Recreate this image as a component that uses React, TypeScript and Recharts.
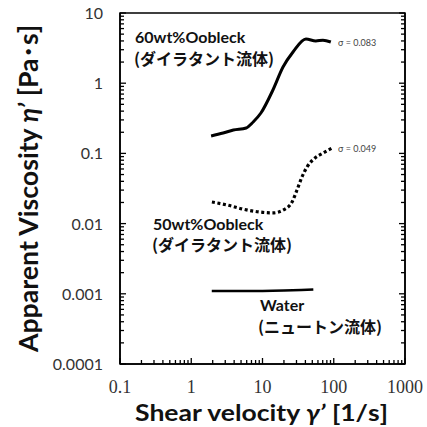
import React from "react";
import {
  LineChart,
  Line,
  XAxis,
  YAxis,
  ReferenceArea,
  Customized,
} from "recharts";

// shear rate [1/s] and apparent viscosity [Pa·s]
const oobleck60Rate = [1.9, 2.8, 3.9, 5.9, 7.4, 9.5, 14, 19.4, 26.8, 40.7, 56, 70.6, 91];
const oobleck60Visc = [0.177, 0.195, 0.215, 0.23, 0.28, 0.376, 0.8, 1.7, 2.78, 4.26, 4.0, 4.1, 3.86];

const oobleck50Rate = [1.95, 3.2, 5.3, 9.2, 14, 20.7, 26, 30.5, 35.8, 42.2, 54.6, 70.6, 94.4];
const oobleck50Visc = [0.0203, 0.0184, 0.0161, 0.0146, 0.0142, 0.0161, 0.0203, 0.0301, 0.0461, 0.064, 0.086, 0.101, 0.119];

const waterRate = [1.94, 5, 10, 20, 35, 51.7];
const waterVisc = [0.0011, 0.0011, 0.0011, 0.00111, 0.00113, 0.00115];

const xMajorTicks = [0.1, 1, 10, 100, 1000];
const yMajorTicks = [0.0001, 0.001, 0.01, 0.1, 1, 10];

const toPoints = (xs: number[], ys: number[]) => xs.map((x, i) => ({ x, y: ys[i] }));
const oobleck60 = toPoints(oobleck60Rate, oobleck60Visc);
const oobleck50 = toPoints(oobleck50Rate, oobleck50Visc);
const water = toPoints(waterRate, waterVisc);

// log ticks: 1..9 in each decade, plus the last decade
const logTicks = (majors: number[]) => [
  ...majors.slice(0, -1).flatMap((d) => [1, 2, 3, 4, 5, 6, 7, 8, 9].map((k) => d * k)),
  majors[majors.length - 1],
];
const xTicks = logTicks(xMajorTicks);
const yTicks = logTicks(yMajorTicks);

const isMajor = (v: number) => {
  const l = Math.log10(v);
  return Math.abs(l - Math.round(l)) < 1e-9;
};
const fmt = (v: number) => String(Number(v.toPrecision(6)));

const latin = "Lato, 'Noto Sans CJK JP', sans-serif";
const jp = "'Noto Sans CJK JP', sans-serif";

const XTick = (props: any) => {
  const { x, y, payload } = props;
  const major = isMajor(payload.value);
  return (
    <g>
      <line x1={x} x2={x} y1={y} y2={y - (major ? 6 : 4)} stroke="#000" strokeWidth={1.3} />
      {major && (
        <text x={x} y={y + 29} textAnchor="middle" fontFamily="'Liberation Serif', serif" fontSize={18} fill="#333">
          {fmt(payload.value)}
        </text>
      )}
    </g>
  );
};

const YTickLeft = (props: any) => {
  const { x, y, payload } = props;
  const major = isMajor(payload.value);
  return (
    <g>
      <line x1={x} x2={x + (major ? 6 : 4)} y1={y} y2={y} stroke="#000" strokeWidth={1.3} />
      {major && (
        <text x={x - 17} y={y + 6} textAnchor="end" fontFamily={latin} fontSize={16} fill="#333">
          {fmt(payload.value)}
        </text>
      )}
    </g>
  );
};

const YTickRight = (props: any) => {
  const { x, y, payload } = props;
  const major = isMajor(payload.value);
  return <line x1={x} x2={x - (major ? 6 : 4)} y1={y} y2={y} stroke="#000" strokeWidth={1.3} />;
};

const Annotations = () => (
  <g>
    <text x={135} y={43} fontFamily={latin} fontWeight="bold" fontSize={16} fill="#111">60wt%Oobleck</text>
    <text x={134} y={65} fontFamily={jp} fontWeight="bold" fontSize={16} fill="#111">(ダイラタント流体)</text>
    <text x={153} y={230} fontFamily={latin} fontWeight="bold" fontSize={16} fill="#111">50wt%Oobleck</text>
    <text x={152} y={251} fontFamily={jp} fontWeight="bold" fontSize={16} fill="#111">(ダイラタント流体)</text>
    <text x={260} y={311} fontFamily={latin} fontWeight="bold" fontSize={16} fill="#111">Water</text>
    <text x={258} y={333} fontFamily={jp} fontWeight="bold" fontSize={16} fill="#111">(ニュートン流体)</text>
    <text x={338} y={46} fontFamily={latin} fontSize={9} fill="#444">σ = 0.083</text>
    <text x={338} y={152} fontFamily={latin} fontSize={9} fill="#444">σ = 0.049</text>
    <text
      x={135}
      y={421}
      fontFamily={latin}
      fontWeight="bold"
      fontSize={23}
      fill="#111"
      textLength={253}
      lengthAdjust="spacingAndGlyphs"
    >
      Shear velocity <tspan fontStyle="italic">γ’</tspan> [1/s]
    </text>
    <text
      transform="translate(38,352) rotate(-90)"
      fontFamily={latin}
      fontWeight="bold"
      fontSize={26}
      fill="#111"
      textLength={327}
      lengthAdjust="spacingAndGlyphs"
    >
      Apparent Viscosity <tspan fontStyle="italic">η’</tspan> [Pa･s]
    </text>
  </g>
);

const axisLine = { stroke: "#000", strokeWidth: 1.5 };

export default function App() {
  return (
    <div style={{ position: "absolute", left: 0, top: 0, width: 427, height: 427, background: "#fff" }}>
      <LineChart width={427} height={427} margin={{ top: 13, right: 12, bottom: 62, left: 119 }}>
        <XAxis
          xAxisId="b"
          dataKey="x"
          type="number"
          scale="log"
          domain={[0.1, 1000]}
          allowDataOverflow
          ticks={xTicks}
          interval={0}
          tickSize={0}
          tickMargin={0}
          tickLine={false}
          tick={<XTick />}
          height={1}
          axisLine={axisLine}
        />
        <YAxis
          yAxisId="l"
          dataKey="y"
          type="number"
          scale="log"
          domain={[0.0001, 10]}
          allowDataOverflow
          ticks={yTicks}
          interval={0}
          tickSize={0}
          tickMargin={0}
          tickLine={false}
          tick={<YTickLeft />}
          width={1}
          axisLine={axisLine}
        />
        <YAxis
          yAxisId="r"
          orientation="right"
          type="number"
          scale="log"
          domain={[0.0001, 10]}
          allowDataOverflow
          ticks={yTicks}
          interval={0}
          tickSize={0}
          tickMargin={0}
          tickLine={false}
          tick={<YTickRight />}
          width={10}
          axisLine={axisLine}
        />
        {/* frame round the plot area */}
        <ReferenceArea
          xAxisId="b"
          yAxisId="l"
          x1={0.1}
          x2={1000}
          y1={0.0001}
          y2={10}
          fill="none"
          stroke="#000"
          strokeWidth={1.5}
          ifOverflow="visible"
        />
        <Line
          xAxisId="b"
          yAxisId="l"
          data={oobleck60}
          dataKey="y"
          type="monotone"
          stroke="#000"
          strokeWidth={3}
          dot={false}
          activeDot={false}
          isAnimationActive={false}
        />
        <Line
          xAxisId="b"
          yAxisId="l"
          data={oobleck50}
          dataKey="y"
          type="monotone"
          stroke="#000"
          strokeWidth={3.2}
          strokeDasharray="3 2.6"
          dot={false}
          activeDot={false}
          isAnimationActive={false}
        />
        <Line
          xAxisId="b"
          yAxisId="r"
          data={water}
          dataKey="y"
          type="monotone"
          stroke="#000"
          strokeWidth={2.5}
          dot={false}
          activeDot={false}
          isAnimationActive={false}
        />
        <Customized component={<Annotations />} />
      </LineChart>
    </div>
  );
}
